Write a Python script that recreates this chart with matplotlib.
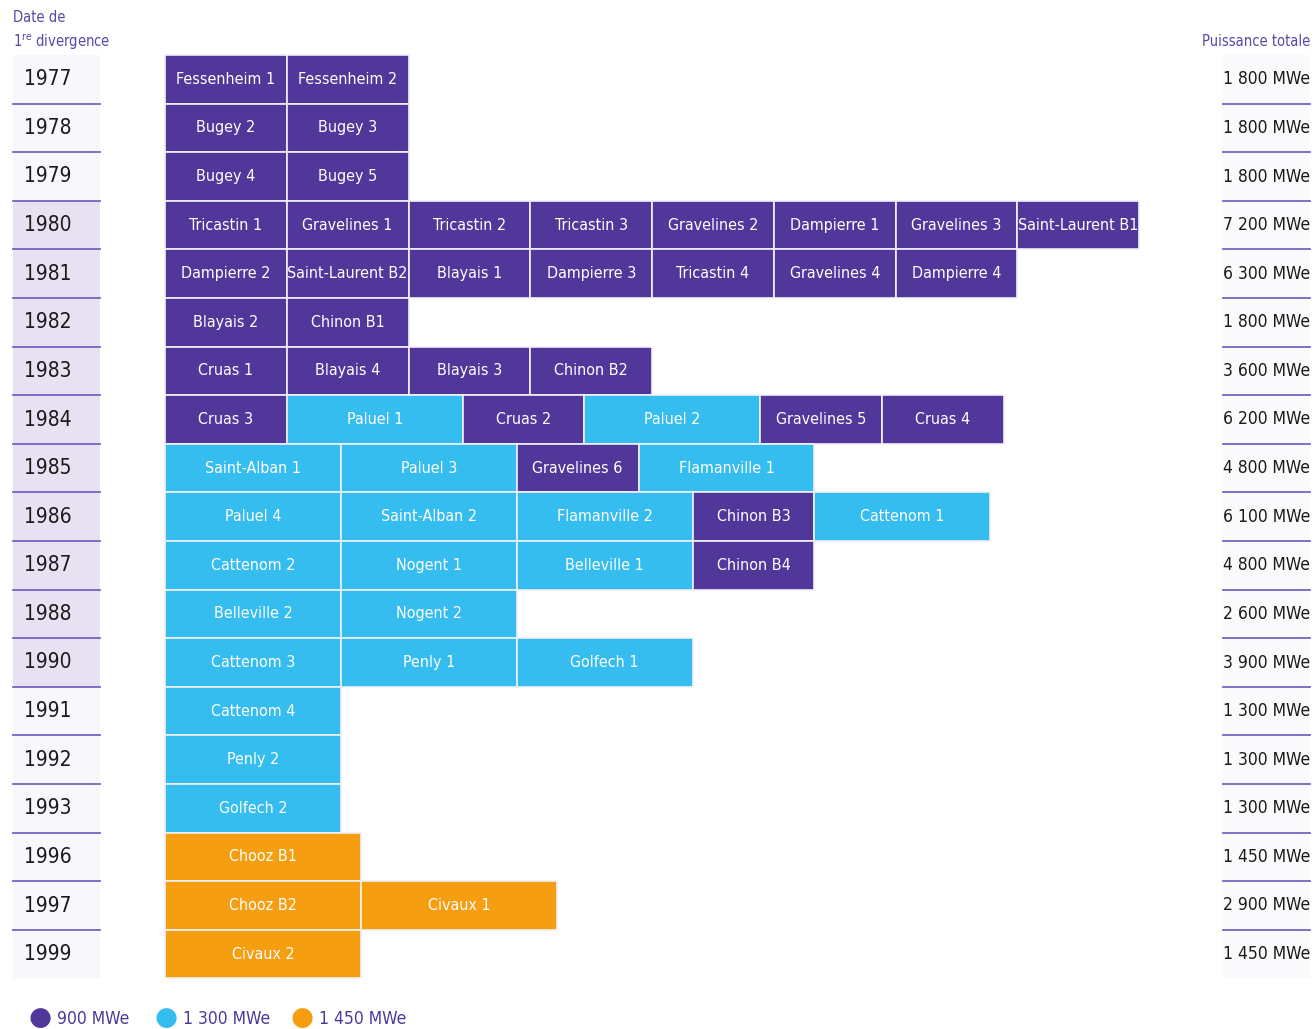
import matplotlib
matplotlib.use("Agg")
import matplotlib.pyplot as plt
import matplotlib.transforms as mtransforms
from matplotlib.patches import Rectangle

# data: year of first criticality, reactors and their power (MWe)
years = ["1977", "1978", "1979", "1980", "1981", "1982", "1983", "1984", "1985", "1986",
         "1987", "1988", "1990", "1991", "1992", "1993", "1996", "1997", "1999"]

reactors = [
    ["Fessenheim 1", "Fessenheim 2"],
    ["Bugey 2", "Bugey 3"],
    ["Bugey 4", "Bugey 5"],
    ["Tricastin 1", "Gravelines 1", "Tricastin 2", "Tricastin 3", "Gravelines 2",
     "Dampierre 1", "Gravelines 3", "Saint-Laurent B1"],
    ["Dampierre 2", "Saint-Laurent B2", "Blayais 1", "Dampierre 3", "Tricastin 4",
     "Gravelines 4", "Dampierre 4"],
    ["Blayais 2", "Chinon B1"],
    ["Cruas 1", "Blayais 4", "Blayais 3", "Chinon B2"],
    ["Cruas 3", "Paluel 1", "Cruas 2", "Paluel 2", "Gravelines 5", "Cruas 4"],
    ["Saint-Alban 1", "Paluel 3", "Gravelines 6", "Flamanville 1"],
    ["Paluel 4", "Saint-Alban 2", "Flamanville 2", "Chinon B3", "Cattenom 1"],
    ["Cattenom 2", "Nogent 1", "Belleville 1", "Chinon B4"],
    ["Belleville 2", "Nogent 2"],
    ["Cattenom 3", "Penly 1", "Golfech 1"],
    ["Cattenom 4"],
    ["Penly 2"],
    ["Golfech 2"],
    ["Chooz B1"],
    ["Chooz B2", "Civaux 1"],
    ["Civaux 2"],
]

powers = [
    [900, 900],
    [900, 900],
    [900, 900],
    [900, 900, 900, 900, 900, 900, 900, 900],
    [900, 900, 900, 900, 900, 900, 900],
    [900, 900],
    [900, 900, 900, 900],
    [900, 1300, 900, 1300, 900, 900],
    [1300, 1300, 900, 1300],
    [1300, 1300, 1300, 900, 1300],
    [1300, 1300, 1300, 900],
    [1300, 1300],
    [1300, 1300, 1300],
    [1300],
    [1300],
    [1300],
    [1450],
    [1450, 1450],
    [1450],
]

palier_labels = ["900 MWe", "1 300 MWe", "1 450 MWe"]
palier_values = [900, 1300, 1450]
palier_colors = ["#52379a", "#35bdf0", "#f59e12"]
color_of = dict(zip(palier_values, palier_colors))

shaded_years = ["1980", "1981", "1982", "1983", "1984", "1985", "1986", "1987", "1988", "1990"]

plt.rcParams["font.family"] = "DejaVu Sans"
plt.rcParams["font.stretch"] = "condensed"
fs_bar, fs_year, fs_tot, fs_head, fs_leg = 11.5, 15, 12.5, 10.5, 12.5

purple_txt = "#5a47a8"
line_col = "#7763c0"

W, H = 1314, 1029
fig = plt.figure(figsize=(W / 100, H / 100), dpi=100)
ax = fig.add_axes([0, 0, 1, 1])
px_per_mwe = 0.1353
row_px = 48.6
x0_px, y0_px = 165, 55
ax.set_xlim(-x0_px / px_per_mwe, (W - x0_px) / px_per_mwe)
ax.set_ylim((H - y0_px) / row_px, -y0_px / row_px)
ax.axis("off")

# bars
for i, (row_names, row_pw) in enumerate(zip(reactors, powers)):
    left = 0
    for name, pw in zip(row_names, row_pw):
        ax.barh(i + 0.5, pw, left=left, height=1, color=color_of[pw],
                edgecolor="#f2f0f8", linewidth=1.2, align="center")
        ax.text(left + pw / 2, i + 0.5, name, ha="center", va="center",
                color="white", fontsize=fs_bar)
        left += pw

# year column (left) and total column (right)
blend = mtransforms.blended_transform_factory(fig.transFigure, ax.transData)
lx0, lx1 = 13 / W, 100 / W
rx0, rx1 = 1223 / W, 1310 / W
for i, (yr, row_pw) in enumerate(zip(years, powers)):
    bg = "#e7e1f1" if yr in shaded_years else "#f8f7fb"
    ax.add_patch(Rectangle((lx0, i), lx1 - lx0, 1, transform=blend,
                           facecolor=bg, edgecolor="none", zorder=0))
    ax.add_patch(Rectangle((rx0, i), rx1 - rx0, 1, transform=blend,
                           facecolor="#fafafc", edgecolor="none", zorder=0))
    ax.text(24 / W, i + 0.5, yr, transform=blend, ha="left", va="center",
            fontsize=fs_year, color="#1a1a1a")
    total = f"{sum(row_pw):,}".replace(",", " ")
    ax.text(rx1, i + 0.5, total + " MWe", transform=blend, ha="right", va="center",
            fontsize=fs_tot, color="#1a1a1a")
    if i < len(years) - 1:
        ax.plot([lx0, lx1], [i + 1, i + 1], transform=blend, color=line_col, lw=1.3)
        ax.plot([rx0, rx1], [i + 1, i + 1], transform=blend, color=line_col, lw=1.3)

# headers
fig.text(13 / W, 1 - 18 / H, "Date de", color=purple_txt, fontsize=fs_head,
         ha="left", va="center")
fig.text(13 / W, 1 - 42 / H, "1$^{\\rm re}$ divergence", color=purple_txt, fontsize=fs_head,
         ha="left", va="center")
fig.text(rx1, 1 - 42 / H, "Puissance totale", color=purple_txt, fontsize=fs_head,
         ha="right", va="center")

# legend
leg_x = [40, 166, 302]
for lx, lab, col in zip(leg_x, palier_labels, palier_colors):
    fig.text(lx / W, 1 - 1018 / H, "\u25CF", color=col, fontsize=19,
             ha="center", va="center", fontstretch="normal")
    fig.text((lx + 17) / W, 1 - 1019 / H, lab, color="#4b3a9a", fontsize=fs_leg,
             ha="left", va="center")

fig.savefig("out.png", dpi=100)
